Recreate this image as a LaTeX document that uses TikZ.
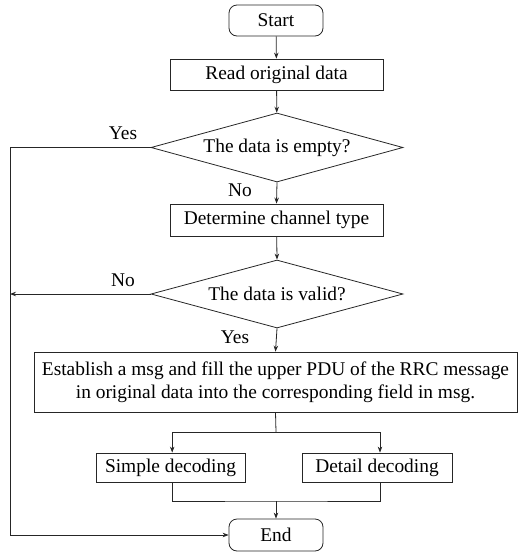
\documentclass[tikz,border=0pt]{standalone}
\usepackage{fontspec}
\setmainfont{Liberation Serif}
\usetikzlibrary{shapes.geometric,arrows.meta,calc}
\begin{document}
\begin{tikzpicture}[x=1pt,y=-1pt,
  every node/.style={font=\fontsize{19.4}{23}\selectfont},
  ln/.style={draw=black!85,line width=0.8pt},
  arr/.style={ln,-{Stealth[length=6pt,width=4.5pt]}},
  procbox/.style={ln,rectangle,inner sep=0pt,align=center},
  termbox/.style={ln,rectangle,rounded corners=8pt,inner sep=0pt,minimum width=94pt,minimum height=31pt},
  decbox/.style={ln,diamond,aspect=3.65,inner sep=0pt,minimum width=252pt,minimum height=69pt},
  lbl/.style={inner sep=0pt}]
\useasboundingbox (0,0) rectangle (518,552);
\node[termbox] (start) at (276,20.5) {Start};
\node[procbox,minimum width=213pt,minimum height=31pt] (read) at (276.5,74.5) {Read original data};
\node[decbox] (d1) at (277,147.5) {The data is empty?};
\node[procbox,minimum width=213pt,minimum height=32pt] (det) at (276.5,220) {Determine channel type};
\node[decbox,minimum height=68pt] (d2) at (277,294) {The data is valid?};
\node[procbox,minimum width=483pt,minimum height=60pt] (big) at (275.5,382)
  {Establish a msg and fill the upper PDU of the RRC message\\in original data into the corresponding field in msg.};
\node[procbox,minimum width=149pt,minimum height=29pt] (simple) at (170.5,467.5) {Simple decoding};
\node[procbox,minimum width=150pt,minimum height=29pt] (detail) at (377,467.5) {Detail decoding};
\node[termbox,minimum height=32pt] (end) at (276,535) {End};

\coordinate (lt) at (10,147.5);
\coordinate (lb) at (10,535);
\coordinate (lm) at (10,294);
\coordinate (br) at (276,432);
\coordinate (jn) at (276,501);

\draw[arr] (start) -- (read);
\draw[arr] (read) -- (d1);
\draw[arr] (d1.south) -- (det.north);
\draw[arr] (det) -- (d2.north);
\draw[arr] (d2.south) -- (big.north);
\draw[ln] (d1.west) -- (lt) -- (lb);
\draw[arr] (lb) -- (end.west);
\draw[arr] (d2.west) -- (lm);
\draw[ln] (big.south) -- (br);
\draw[arr] (br) -| ([xshift=1.7pt]simple.north);
\draw[arr] (br) -| ([xshift=3pt]detail.north);
\draw[ln] ([xshift=1.7pt]simple.south) |- (jn) -| ([xshift=3pt]detail.south);
\draw[arr] (jn) -- (end.north);

\node[lbl] (yes1) at (123,133) {Yes};
\node[lbl] (no1) at (240,190) {No};
\node[lbl] (no2) at (123,280) {No};
\node[lbl] (yes2) at (235,337) {Yes};
\end{tikzpicture}
\end{document}
